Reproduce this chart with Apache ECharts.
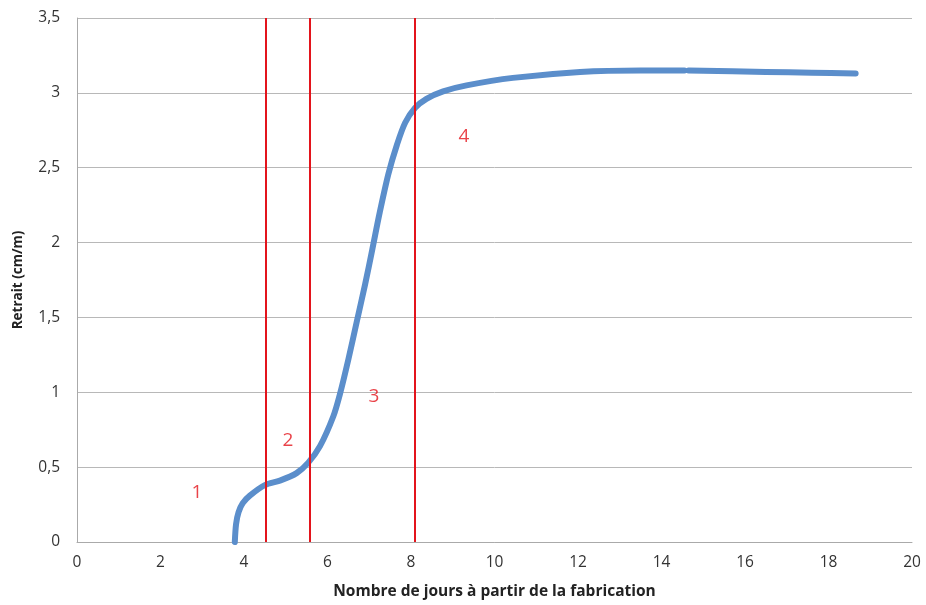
<!DOCTYPE html>
<html>
<head>
<meta charset="utf-8">
<script src="https://cdn.jsdelivr.net/npm/echarts@6/dist/echarts.min.js"></script>
<style>html,body{margin:0;padding:0;background:#fff}#c{width:926px;height:605px}</style>
</head>
<body>
<div id="c"></div>
<script>
var days =   [3.78, 3.81, 3.87, 3.97, 4.14, 4.50, 4.86, 5.26, 5.54, 5.82, 6.14, 6.30, 6.50, 6.70, 6.90, 7.07, 7.25, 7.46, 7.66, 7.86, 8.10, 8.37, 8.77, 9.33, 10.44, 12.05, 13.50, 14.55, 14.60, 14.65, 16.50, 17.60, 18.65];
var shrink = [0.00, 0.12, 0.20, 0.26, 0.31, 0.38, 0.41, 0.46, 0.53, 0.64, 0.84, 0.99, 1.22, 1.47, 1.72, 1.95, 2.20, 2.46, 2.65, 2.80, 2.90, 2.96, 3.01, 3.05, 3.10, 3.14, 3.15, 3.15, null, 3.15, 3.14, 3.135, 3.13];
var phaseBounds = [4.53, 5.58, 8.1];
var phaseLabels = ['1', '2', '3', '4'];
var phaseLabelX = [2.87, 5.05, 7.11, 9.27];
var phaseLabelY = [0.33, 0.68, 0.97, 2.71];
var xTicks = [0, 2, 4, 6, 8, 10, 12, 14, 16, 18, 20];
var yTicks = [0, 0.5, 1, 1.5, 2, 2.5, 3, 3.5];

var curve = days.map(function (d, i) { return [d, shrink[i]]; });
var labelPts = phaseLabels.map(function (t, i) { return {value: [phaseLabelX[i], phaseLabelY[i]], name: t}; });

var chart = echarts.init(document.getElementById('c'));
chart.setOption({
  animation: false,
  grid: {left: 77, right: 14, top: 18, bottom: 62},
  xAxis: {
    type: 'value', min: xTicks[0], max: xTicks[xTicks.length - 1], interval: 2,
    name: 'Nombre de jours à partir de la fabrication',
    nameLocation: 'middle', nameGap: 42,
    nameTextStyle: {fontFamily: 'Open Sans', fontWeight: 'bold', fontSize: 15.5, color: '#222'},
    axisLine: {show: true, lineStyle: {color: '#aaa', width: 1}},
    axisTick: {show: false},
    splitLine: {show: false},
    axisLabel: {fontFamily: 'Open Sans', fontSize: 15.5, color: '#333', margin: 13}
  },
  yAxis: {
    type: 'value', min: yTicks[0], max: yTicks[yTicks.length - 1], interval: 0.5,
    name: 'Retrait (cm/m)',
    nameLocation: 'middle', nameGap: 52,
    nameTextStyle: {fontFamily: 'Open Sans', fontWeight: 'bold', fontSize: 13.5, color: '#222'},
    axisLine: {show: true, lineStyle: {color: '#aaa', width: 1}},
    axisTick: {show: false},
    splitLine: {show: true, lineStyle: {color: '#b8b8b8', width: 1}},
    axisLabel: {fontFamily: 'Open Sans', fontSize: 15.5, color: '#333', margin: 17,
      formatter: function (v) { return String(v).replace('.', ','); }}
  },
  series: [
    {
      type: 'line', data: curve, smooth: 0.3, showSymbol: false, connectNulls: false,
      lineStyle: {color: '#5b8ecb', width: 6, cap: 'round', join: 'round'},
      markLine: {
        silent: true, symbol: 'none',
        lineStyle: {color: '#e3141c', width: 2, type: 'solid'},
        label: {show: false},
        data: phaseBounds.map(function (b) { return {xAxis: b}; })
      },
      z: 3
    },
    {
      type: 'scatter', data: labelPts, symbolSize: 0,
      label: {show: true, position: 'inside', formatter: function (p) { return p.name; },
        color: '#e3141c', fontFamily: 'Open Sans', fontSize: 19},
      z: 4
    }
  ]
});
</script>
</body>
</html>
